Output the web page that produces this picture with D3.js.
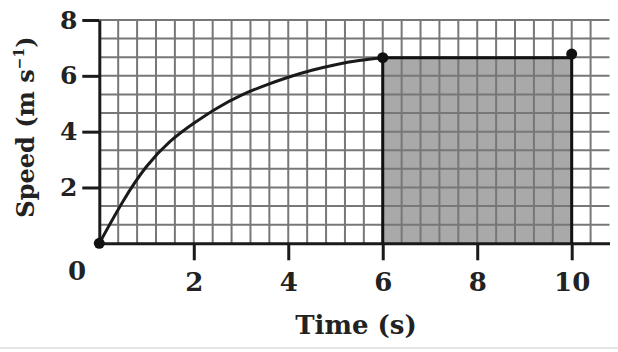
<!DOCTYPE html>
<html>
<head>
<meta charset="utf-8">
<script src="https://cdn.jsdelivr.net/npm/d3@7"></script>
<style>
  body { margin: 0; background: #fff; }
  svg { display: block; }
  text { font-family: "DejaVu Serif", "Liberation Serif", serif; font-weight: bold; fill: #222; }
</style>
</head>
<body>
<svg id="chart" width="618" height="352"></svg>
<script>
// speed-time readings (s, m/s)
const times  = [0, 0.5, 1, 1.5, 2, 2.5, 3, 3.5, 4, 4.5, 5, 5.5, 6]
const speeds = [0, 1.5, 2.75, 3.65, 4.3, 4.85, 5.3, 5.65, 5.95, 6.2, 6.4, 6.55, 6.65]
const flatStart = 6, flatEnd = 10, flatSpeed = 6.65
const dotTimes  = [0, 6, 10]
const dotSpeeds = [0, 6.65, 6.78]
const xTicks = [2, 4, 6, 8, 10]
const yTicks = [2, 4, 6, 8]

const svg = d3.select("#chart")
const x0 = 99.3, y0 = 243.3

let xScale = d3.scaleLinear().domain([0, 10.8]).range([x0, x0 + 10.8 * 47.24])
let yScale = d3.scaleLinear().domain([0, 8]).range([y0, 20])

// shaded area under the flat part
svg.append("rect")
    .attr("x", xScale(flatStart))
    .attr("y", yScale(flatSpeed))
    .attr("width", xScale(flatEnd) - xScale(flatStart))
    .attr("height", yScale(0) - yScale(flatSpeed))
    .attr("fill", "#a9a9a9")

// graph paper grid
let gx = d3.range(1, 27).map(k => k * 0.4)
let gy = d3.range(1, 13).map(k => k * 2 / 3)
svg.append("g").selectAll("line").data(gx).join("line")
    .attr("x1", d => xScale(d)).attr("x2", d => xScale(d))
    .attr("y1", yScale(0)).attr("y2", yScale(8))
    .attr("stroke", "#777").attr("stroke-width", 2)
svg.append("g").selectAll("line").data(gy).join("line")
    .attr("x1", xScale(0)).attr("x2", xScale(10.8))
    .attr("y1", d => yScale(d)).attr("y2", d => yScale(d))
    .attr("stroke", "#777").attr("stroke-width", 2)

// axes
let xAxis = g => g
    .attr("transform", `translate(0,${y0})`)
    .call(d3.axisBottom(xScale).tickValues(xTicks).tickSize(17).tickSizeOuter(0).tickPadding(12))
    .call(g => g.select(".domain").attr("stroke", "#1a1a1a").attr("stroke-width", 3))
    .call(g => g.selectAll(".tick line").attr("stroke", "#1a1a1a").attr("stroke-width", 3))
    .call(g => g.selectAll(".tick text").attr("font-size", 26).attr("font-family", null).attr("fill", "#222"))
let yAxis = g => g
    .attr("transform", `translate(${x0},0)`)
    .call(d3.axisLeft(yScale).tickValues(yTicks).tickSize(17).tickSizeOuter(0).tickPadding(5))
    .call(g => g.select(".domain").attr("stroke", "#1a1a1a").attr("stroke-width", 3))
    .call(g => g.selectAll(".tick line").attr("stroke", "#1a1a1a").attr("stroke-width", 3))
    .call(g => g.selectAll(".tick text").attr("font-size", 25).attr("font-family", null).attr("fill", "#222"))

svg.append("g").call(xAxis)
svg.append("g").call(yAxis)

// rectangle outline (sides + top)
svg.append("path")
    .attr("d", d3.line()([
        [xScale(flatStart), yScale(0)], [xScale(flatStart), yScale(flatSpeed)],
        [xScale(flatEnd), yScale(flatSpeed)], [xScale(flatEnd), yScale(0)]
    ]))
    .attr("fill", "none").attr("stroke", "#111").attr("stroke-width", 3)

// speed curve
let pts = times.map((t, i) => [t, speeds[i]])
let line = d3.line()
    .x(d => xScale(d[0]))
    .y(d => yScale(d[1]))
    .curve(d3.curveNatural)
svg.append("path")
    .datum(pts)
    .attr("fill", "none")
    .attr("stroke", "#1a1a1a")
    .attr("stroke-width", 3)
    .attr("stroke-linecap", "round")
    .attr("d", line)

svg.append("g").selectAll("circle").data(dotTimes).join("circle")
    .attr("cx", d => xScale(d))
    .attr("cy", (d, i) => yScale(dotSpeeds[i]))
    .attr("r", 5.5)
    .attr("fill", "#111")

// origin label and titles
svg.append("text").attr("x", 77).attr("y", 280).attr("text-anchor", "middle")
    .attr("font-size", 26).text("0")

svg.append("text").attr("x", 356).attr("y", 334).attr("text-anchor", "middle")
    .attr("font-size", 26).text("Time (s)")

let yt = svg.append("text")
    .attr("transform", "translate(34,127) rotate(-90)")
    .attr("text-anchor", "middle")
    .attr("font-size", 24)
yt.append("tspan").text("Speed (m s")
yt.append("tspan").attr("dy", -10).attr("font-size", 14).text("−1")
yt.append("tspan").attr("dy", 10).text(")")

// faint frame line at bottom
svg.append("line").attr("x1", 0).attr("x2", 618).attr("y1", 348).attr("y2", 348)
    .attr("stroke", "#ddd").attr("stroke-width", 1.5)
</script>
</body>
</html>
